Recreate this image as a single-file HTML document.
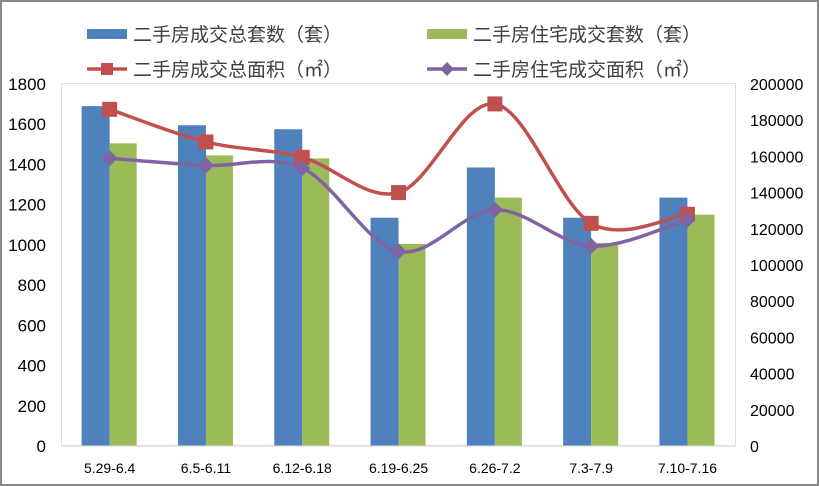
<!DOCTYPE html>
<html><head><meta charset="utf-8"><style>
body{margin:0;background:#fff}
svg{display:block;font-family:"Liberation Sans","Noto Sans CJK SC",sans-serif}
</style></head><body>
<svg id="c" width="819" height="486" xmlns="http://www.w3.org/2000/svg">
<rect x="1" y="1" width="817" height="484" fill="#fff" stroke="#888" stroke-width="2"/>
<rect x="61.5" y="83.5" width="674" height="362" fill="none" stroke="#e0e0e0"/>
<g id="legend" font-size="19" fill="#404040">
<rect x="87" y="29" width="40" height="10" fill="#4f81bd"/>
<text x="133" y="41">二手房成交总套数（套）</text>
<rect x="427" y="29" width="40" height="10" fill="#9bbb59"/>
<text x="473" y="41">二手房住宅成交套数（套）</text>
<line x1="87" y1="69" x2="127" y2="69" stroke="#c0504d" stroke-width="3.5"/>
<rect x="101" y="63" width="12" height="12" fill="#c0504d"/>
<text x="133" y="76">二手房成交总面积（㎡）</text>
<line x1="427" y1="69" x2="467" y2="69" stroke="#8064a2" stroke-width="3.5"/>
<path d="M447 62 L454 69 L447 76 L440 69 Z" fill="#8064a2"/>
<text x="473" y="76">二手房住宅成交面积（㎡）</text>
</g>
<g id="g"></g>
</svg>
<script>
const categories=["5.29-6.4","6.5-6.11","6.12-6.18","6.19-6.25","6.26-7.2","7.3-7.9","7.10-7.16"];
const totalCount=[1690,1595,1575,1135,1385,1135,1235];
const resCount=[1505,1445,1430,1005,1235,1010,1150];
const totalArea=[186000,168000,159500,140000,189000,123000,128000];
const resArea=[159000,155000,153500,107500,130500,110500,125000];
const leftTicks=[0,200,400,600,800,1000,1200,1400,1600,1800];
const rightTicks=[0,20000,40000,60000,80000,100000,120000,140000,160000,180000,200000];
const NS="http://www.w3.org/2000/svg",g=document.getElementById('g');
const x0=61.5,y0=446,h=362,step=96.3;
const yL=v=>y0-v/1800*h, yR=v=>y0-v/200000*h, xc=i=>x0+step*(i+0.5);
function mk(t,a){const e=document.createElementNS(NS,t);for(const k in a)e.setAttribute(k,a[k]);g.appendChild(e);return e;}
leftTicks.forEach(v=>{const e=mk('text',{x:46,y:yL(v)+6,'text-anchor':'end','font-size':17,fill:'#000'});e.textContent=v;

});
rightTicks.forEach(v=>{const e=mk('text',{x:750,y:yR(v)+6,'font-size':16,fill:'#000'});e.textContent=v;

});
categories.forEach((c,i)=>{const e=mk('text',{x:xc(i),y:473,'text-anchor':'middle','font-size':14,fill:'#000'});e.textContent=c;


const b1=mk('rect',{x:xc(i)-28,y:yL(totalCount[i]),width:28,height:y0-yL(totalCount[i]),fill:'#4f81bd'});


const b2=mk('rect',{x:xc(i),y:yL(resCount[i]),width:27,height:y0-yL(resCount[i]),fill:'#9bbb59'});

});
mk('line',{x1:x0,y1:y0,x2:735.5,y2:y0,stroke:'#d9d9d9'});
function smooth(p){let d=`M${p[0][0]},${p[0][1]}`;for(let i=0;i<p.length-1;i++){const a=p[i-1]||p[i],b=p[i],c=p[i+1],e=p[i+2]||c;
d+=` C${b[0]+(c[0]-a[0])/6},${b[1]+(c[1]-a[1])/6} ${c[0]-(e[0]-b[0])/6},${c[1]-(e[1]-b[1])/6} ${c[0]},${c[1]}`;}return d;}
function line(vals,col,name,diamond){const p=vals.map((v,i)=>[xc(i),yR(v)]);
const l=mk('path',{d:smooth(p),fill:'none',stroke:col,'stroke-width':3.5});


p.forEach(q=>{const m=diamond?mk('path',{d:`M${q[0]} ${q[1]-8} L${q[0]+8} ${q[1]} L${q[0]} ${q[1]+8} L${q[0]-8} ${q[1]} Z`,fill:col}):mk('rect',{x:q[0]-7.5,y:q[1]-7.5,width:15,height:15,fill:col});

});}
line(totalArea,'#c0504d','total-area',false);
line(resArea,'#8064a2','residential-area',true);
</script>
</body></html>
